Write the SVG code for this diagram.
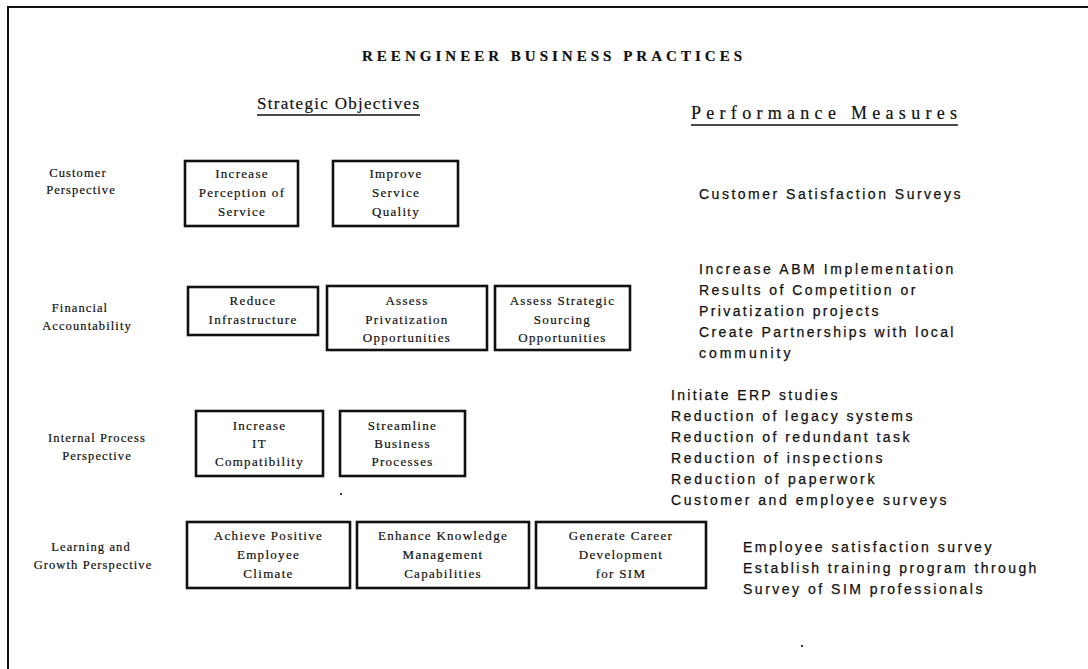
<svg xmlns="http://www.w3.org/2000/svg" width="1088" height="669" viewBox="0 0 1088 669">
<style>
.bg{fill:#fff}
.frame{stroke:#111;stroke-width:2;fill:none}
.box{fill:#fff;stroke:#111;stroke-width:2.6}
.t{font-family:"Liberation Serif",serif;fill:#111;stroke:#111;stroke-width:0.2}
.title{font-size:15px;font-weight:bold}
.head{font-size:17px}
.lbl{font-size:12.5px;letter-spacing:1.1px;text-anchor:middle}
.bx{font-size:13px;letter-spacing:1.3px;text-anchor:middle}
.pm{font-family:"Liberation Sans",sans-serif;font-size:14px;letter-spacing:1.6px;fill:#111;stroke:#111;stroke-width:0.25}
.ul{stroke:#111;stroke-width:1.6}
</style>
<rect class="bg" x="0" y="0" width="1088" height="669"/>
<path class="frame" d="M8,669 V7 H1088"/>
<g id="headers">
<text class="t title" x="552" y="61" text-anchor="middle" textLength="380" lengthAdjust="spacing">REENGINEER BUSINESS PRACTICES</text>
<text class="t head" x="257" y="109" textLength="162" lengthAdjust="spacing">Strategic Objectives</text>
<line class="ul" x1="257" y1="115" x2="420" y2="115"/>
<text class="t head" x="691" y="119" textLength="266" lengthAdjust="spacing" style="font-size:18px">Performance Measures</text>
<line class="ul" x1="691" y1="125" x2="958" y2="125"/>
</g>
<g id="row-labels">
<text class="t lbl" x="78" y="177">Customer</text>
<text class="t lbl" x="81" y="194">Perspective</text>
<text class="t lbl" x="80" y="312">Financial</text>
<text class="t lbl" x="87" y="330">Accountability</text>
<text class="t lbl" x="97" y="442">Internal Process</text>
<text class="t lbl" x="97" y="460">Perspective</text>
<text class="t lbl" x="91" y="551">Learning and</text>
<text class="t lbl" x="93" y="569">Growth Perspective</text>
</g>
<g id="node-increase-perception">
<rect class="box" x="185" y="161" width="113" height="65"/>
<text class="t bx" x="242" y="178">Increase</text>
<text class="t bx" x="242" y="197">Perception of</text>
<text class="t bx" x="242" y="216">Service</text>
</g>
<g id="node-improve-quality">
<rect class="box" x="333" y="161" width="125" height="65"/>
<text class="t bx" x="396" y="178">Improve</text>
<text class="t bx" x="396" y="197">Service</text>
<text class="t bx" x="396" y="216">Quality</text>
</g>
<g id="node-reduce-infrastructure">
<rect class="box" x="188" y="287" width="130" height="48"/>
<text class="t bx" x="253" y="305">Reduce</text>
<text class="t bx" x="253" y="324">Infrastructure</text>
</g>
<g id="node-assess-privatization">
<rect class="box" x="327" y="286" width="160" height="64"/>
<text class="t bx" x="407" y="305">Assess</text>
<text class="t bx" x="407" y="324">Privatization</text>
<text class="t bx" x="407" y="342">Opportunities</text>
</g>
<g id="node-assess-sourcing">
<rect class="box" x="495" y="286" width="135" height="64"/>
<text class="t bx" x="562.5" y="305">Assess Strategic</text>
<text class="t bx" x="562.5" y="324">Sourcing</text>
<text class="t bx" x="562.5" y="342">Opportunities</text>
</g>
<g id="node-increase-it">
<rect class="box" x="196" y="411" width="127" height="65"/>
<text class="t bx" x="259.5" y="430">Increase</text>
<text class="t bx" x="259.5" y="448">IT</text>
<text class="t bx" x="259.5" y="466">Compatibility</text>
</g>
<g id="node-streamline">
<rect class="box" x="340" y="411" width="125" height="65"/>
<text class="t bx" x="402.5" y="430">Streamline</text>
<text class="t bx" x="402.5" y="448">Business</text>
<text class="t bx" x="402.5" y="466">Processes</text>
</g>
<g id="node-achieve-climate">
<rect class="box" x="187" y="522" width="163" height="66"/>
<text class="t bx" x="268.5" y="540">Achieve Positive</text>
<text class="t bx" x="268.5" y="559">Employee</text>
<text class="t bx" x="268.5" y="578">Climate</text>
</g>
<g id="node-enhance-knowledge">
<rect class="box" x="357" y="522" width="172" height="66"/>
<text class="t bx" x="443" y="540">Enhance Knowledge</text>
<text class="t bx" x="443" y="559">Management</text>
<text class="t bx" x="443" y="578">Capabilities</text>
</g>
<g id="node-career-development">
<rect class="box" x="536" y="522" width="170" height="66"/>
<text class="t bx" x="621" y="540">Generate Career</text>
<text class="t bx" x="621" y="559">Development</text>
<text class="t bx" x="621" y="578">for SIM</text>
</g>
<g id="measures">
<text class="pm" x="699" y="199" textLength="263" lengthAdjust="spacing">Customer Satisfaction Surveys</text>
<text class="pm" x="699" y="274" textLength="256" lengthAdjust="spacing">Increase ABM Implementation</text>
<text class="pm" x="699" y="295" textLength="218" lengthAdjust="spacing">Results of Competition or</text>
<text class="pm" x="699" y="316" textLength="181" lengthAdjust="spacing">Privatization projects</text>
<text class="pm" x="699" y="337" textLength="256" lengthAdjust="spacing">Create Partnerships with local</text>
<text class="pm" x="699" y="358" textLength="93" lengthAdjust="spacing">community</text>
<text class="pm" x="671" y="400" textLength="168" lengthAdjust="spacing">Initiate ERP studies</text>
<text class="pm" x="671" y="421" textLength="243" lengthAdjust="spacing">Reduction of legacy systems</text>
<text class="pm" x="671" y="442" textLength="240" lengthAdjust="spacing">Reduction of redundant task</text>
<text class="pm" x="671" y="463" textLength="213" lengthAdjust="spacing">Reduction of inspections</text>
<text class="pm" x="671" y="484" textLength="205" lengthAdjust="spacing">Reduction of paperwork</text>
<text class="pm" x="671" y="505" textLength="277" lengthAdjust="spacing">Customer and employee surveys</text>
<text class="pm" x="743" y="552" textLength="250" lengthAdjust="spacing">Employee satisfaction survey</text>
<text class="pm" x="743" y="573" textLength="295" lengthAdjust="spacing">Establish training program through</text>
<text class="pm" x="743" y="594" textLength="241" lengthAdjust="spacing">Survey of SIM professionals</text>
</g>
<g id="specks" fill="#333">
<rect x="340" y="493" width="2" height="2"/>
<rect x="801" y="645" width="2" height="2"/>
</g>
</svg>
